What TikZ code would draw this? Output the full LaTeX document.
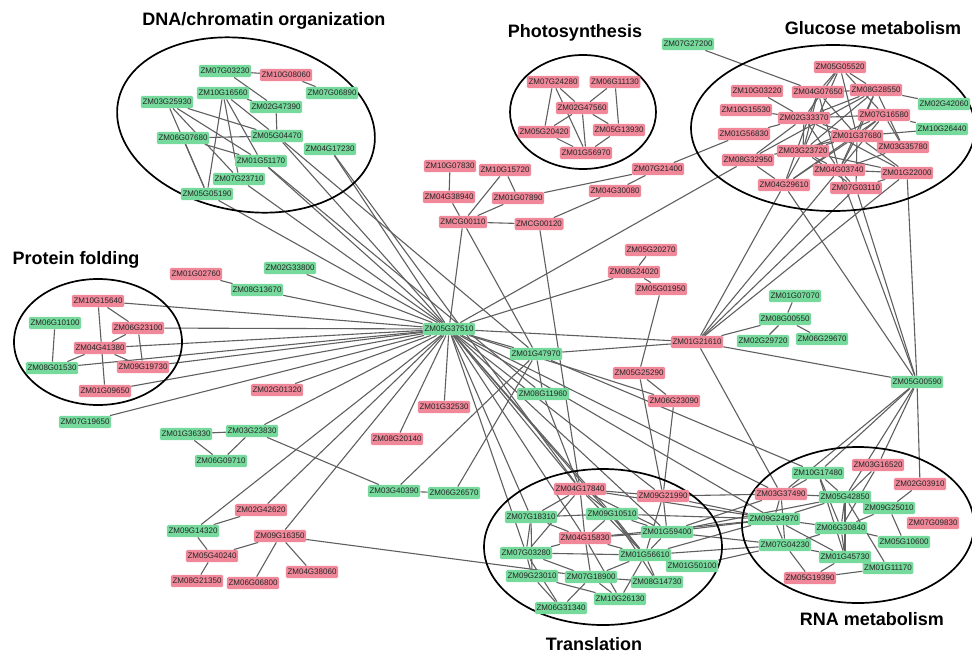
\documentclass[tikz,border=0pt]{standalone}
\usepackage{fontspec}
\setmainfont{Liberation Sans}
\definecolor{upgreen}{RGB}{118,218,156}
\definecolor{downpink}{RGB}{240,136,154}
\definecolor{linkgray}{RGB}{95,95,95}
\pgfdeclarelayer{background}
\pgfsetlayers{background,main}
\begin{document}
\begin{tikzpicture}[x=1pt, y=-1pt,
     gene/.style = {rounded corners=1.5pt, inner xsep=1.6pt, inner ysep=3.2pt,
                    text height=5.9pt, text depth=0.1pt,
                    font=\fontsize{8}{9}\selectfont, text=black!85},
    gnode/.style = {gene, fill=upgreen},
    pnode/.style = {gene, fill=downpink},
     link/.style = {draw=linkgray, line width=1.1pt},
  cluster/.style = {draw=black, line width=1.7pt},
    title/.style = {font=\fontsize{18}{20}\selectfont\bfseries, anchor=base}
                    ]
\useasboundingbox (0,0) rectangle (972,654);
% clusters
\draw[cluster, rotate around={-10:(246,125)}] (246,125) ellipse [x radius=130, y radius=86];
\draw[cluster] (583,112) ellipse [x radius=73, y radius=57];
\draw[cluster] (833,128) ellipse [x radius=142, y radius=83];
\draw[cluster] (98,342) ellipse [x radius=84, y radius=63];
\draw[cluster] (603,547) ellipse [x radius=119, y radius=78];
\draw[cluster] (858,525) ellipse [x radius=116, y radius=78];
% titles
\node[title] (dna)   at (264,25)  {DNA/chromatin organization};
\node[title] (photo) at (575,37)  {Photosynthesis};
\node[title] (gluc)  at (873,34)  {Glucose metabolism};
\node[title] (fold)  at (76,264)  {Protein folding};
\node[title] (trans) at (594,650) {Translation};
\node[title] (rna)   at (872,625) {RNA metabolism};
% green genes
\foreach \id/\px/\py in {ZM07G03230/225/71, ZM10G16560/223/93, ZM07G06890/332/93,
    ZM03G25930/167/102, ZM02G47390/276/107, ZM06G07680/183/138, ZM05G04470/277/136,
    ZM04G17230/330/149, ZM01G51170/261/161, ZM07G23710/239/179, ZM05G05190/207/194,
    ZM07G27200/688/44, ZM02G42060/944/104, ZM10G26440/942/129,
    ZM06G10100/55/323, ZM08G01530/52/368, ZM07G19650/85/422,
    ZM02G33800/290/268, ZM08G13670/257/290, ZM01G36330/186/434, ZM03G23830/252/431,
    ZM06G09710/221/461, ZM03G40390/394/491, ZM06G26570/454/493, ZM09G14320/193/531,
    ZM05G37510/449/329, ZM01G47970/536/354, ZM08G11960/543/394,
    ZM01G07070/795/296, ZM08G00550/785/319, ZM02G29720/763/341, ZM06G29670/822/339,
    ZM05G00590/917/382,
    ZM07G18310/531/517, ZM09G10510/612/514, ZM01G59400/667/532, ZM07G03280/526/553,
    ZM01G56610/645/555, ZM01G50100/692/566, ZM09G23010/532/576, ZM07G18900/591/577,
    ZM08G14730/657/582, ZM10G26130/620/599, ZM06G31340/561/608,
    ZM10G17480/818/473, ZM05G42850/845/497, ZM09G25010/889/508, ZM09G24970/774/519,
    ZM06G30840/841/528, ZM07G04230/785/545, ZM05G10600/904/542, ZM01G45730/845/557,
    ZM01G11170/888/568}
    \node[gnode] (\id) at (\px,\py) {\id};
% pink genes
\foreach \id/\px/\py in {ZM10G08060/286/75,
    ZM07G24280/553/82, ZM06G11130/615/82, ZM02G47560/582/108, ZM05G20420/544/132,
    ZM05G13930/619/130, ZM01G56970/586/153,
    ZM05G05520/840/67, ZM10G03220/757/91, ZM04G07650/818/92, ZM08G28550/876/90,
    ZM10G15530/746/110, ZM02G33370/804/118, ZM07G16580/884/115, ZM01G56830/744/134,
    ZM01G37680/857/136, ZM03G35780/903/147, ZM03G23720/803/151, ZM08G32950/748/160,
    ZM04G03740/839/170, ZM01G22000/907/173, ZM04G29610/784/185, ZM07G03110/856/188,
    ZM10G07830/450/166, ZM10G15720/505/170, ZM04G38940/449/197, ZM01G07890/518/198,
    ZMCG00110/463/222, ZMCG00120/539/224, ZM07G21400/658/169, ZM04G30080/615/191,
    ZM05G20270/651/250, ZM08G24020/634/272, ZM05G01950/661/289,
    ZM10G15640/98/301, ZM06G23100/138/328, ZM04G41380/100/348, ZM09G19730/143/367,
    ZM01G09650/105/391,
    ZM01G02760/196/274, ZM02G01320/277/390, ZM01G32530/444/407, ZM08G20140/397/439,
    ZM02G42620/261/510, ZM09G16350/280/536, ZM05G40240/212/556, ZM04G38060/312/572,
    ZM08G21350/197/581, ZM06G06800/253/583,
    ZM01G21610/697/342, ZM05G25290/639/373, ZM06G23090/674/401,
    ZM04G17840/580/489, ZM09G21990/663/496, ZM04G15830/585/538,
    ZM03G16520/878/465, ZM02G03910/920/484, ZM03G37490/781/494, ZM07G09830/933/523,
    ZM05G19390/810/578}
    \node[pnode] (\id) at (\px,\py) {\id};
% interactions
\begin{pgfonlayer}{background}
\foreach \a/\b in {
    ZM07G03230/ZM10G08060, ZM07G03230/ZM02G47390, ZM10G08060/ZM07G06890,
    ZM10G16560/ZM02G47390, ZM10G16560/ZM05G04470, ZM10G16560/ZM01G51170,
    ZM10G16560/ZM07G23710, ZM10G16560/ZM05G05190, ZM03G25930/ZM05G04470,
    ZM03G25930/ZM01G51170, ZM03G25930/ZM07G23710, ZM03G25930/ZM05G05190,
    ZM06G07680/ZM05G04470, ZM06G07680/ZM05G05190, ZM06G07680/ZM01G51170,
    ZM02G47390/ZM05G04470,
    ZM05G04470/ZM05G37510, ZM04G17230/ZM05G37510, ZM01G51170/ZM05G37510,
    ZM07G23710/ZM05G37510, ZM05G05190/ZM05G37510, ZM05G04470/ZM01G47970,
    ZM04G17230/ZM04G17840, ZM01G51170/ZM08G11960,
    ZM07G24280/ZM02G47560, ZM07G24280/ZM05G20420, ZM07G24280/ZM01G56970,
    ZM06G11130/ZM02G47560, ZM06G11130/ZM05G13930, ZM02G47560/ZM05G20420,
    ZM02G47560/ZM01G56970, ZM02G47560/ZM05G13930, ZM05G20420/ZM01G56970,
    ZM05G13930/ZM01G56970,
    ZM10G07830/ZM04G38940, ZM04G38940/ZMCG00110, ZM10G15720/ZMCG00110,
    ZM10G15720/ZM01G07890, ZM01G07890/ZMCG00110, ZM01G07890/ZM07G21400,
    ZM07G21400/ZM04G30080, ZM07G21400/ZM01G56830, ZMCG00110/ZMCG00120,
    ZMCG00120/ZM04G30080, ZMCG00120/ZM04G17840, ZMCG00110/ZM05G37510,
    ZMCG00110/ZM01G47970, ZM05G20270/ZM08G24020, ZM08G24020/ZM05G01950,
    ZM08G24020/ZM05G37510, ZM05G01950/ZM05G25290, ZM08G32950/ZM05G37510,
    ZM07G27200/ZM04G07650}
    \draw[link] (\a) -- (\b);
% glucose metabolism
\foreach \a/\b in {
    ZM05G05520/ZM04G07650, ZM05G05520/ZM08G28550, ZM05G05520/ZM02G33370,
    ZM05G05520/ZM01G37680, ZM05G05520/ZM07G16580, ZM05G05520/ZM03G23720,
    ZM04G07650/ZM08G28550, ZM04G07650/ZM01G37680, ZM04G07650/ZM03G23720,
    ZM04G07650/ZM04G03740, ZM04G07650/ZM04G29610, ZM10G03220/ZM02G33370,
    ZM08G28550/ZM02G42060, ZM08G28550/ZM02G33370, ZM08G28550/ZM01G37680,
    ZM08G28550/ZM03G23720, ZM08G28550/ZM08G32950, ZM08G28550/ZM04G03740,
    ZM08G28550/ZM03G35780, ZM10G15530/ZM02G33370, ZM02G33370/ZM07G16580,
    ZM02G33370/ZM01G37680, ZM02G33370/ZM03G23720, ZM02G33370/ZM04G03740,
    ZM02G33370/ZM01G56830, ZM02G33370/ZM01G22000, ZM02G33370/ZM08G32950,
    ZM07G16580/ZM10G26440, ZM07G16580/ZM01G37680, ZM07G16580/ZM03G23720,
    ZM07G16580/ZM04G29610, ZM07G16580/ZM03G35780, ZM07G16580/ZM04G03740,
    ZM01G37680/ZM10G26440, ZM01G37680/ZM03G23720, ZM01G37680/ZM04G03740,
    ZM01G37680/ZM01G22000, ZM01G37680/ZM04G29610, ZM01G37680/ZM07G03110,
    ZM01G37680/ZM08G32950, ZM01G37680/ZM03G35780, ZM03G23720/ZM04G03740,
    ZM03G23720/ZM01G22000, ZM03G23720/ZM04G29610, ZM03G23720/ZM07G03110,
    ZM08G32950/ZM04G29610, ZM04G03740/ZM07G03110, ZM04G03740/ZM03G35780,
    ZM07G03110/ZM01G22000, ZM04G03740/ZM01G22000,
    ZM04G29610/ZM01G21610, ZM04G03740/ZM01G21610, ZM07G03110/ZM01G21610,
    ZM01G22000/ZM01G21610, ZM04G29610/ZM05G00590, ZM04G03740/ZM05G00590,
    ZM07G03110/ZM05G00590, ZM01G22000/ZM05G00590}
    \draw[link] (\a) -- (\b);
% protein folding and the hub
\foreach \a/\b in {
    ZM10G15640/ZM06G23100, ZM10G15640/ZM01G09650, ZM06G10100/ZM08G01530,
    ZM06G23100/ZM04G41380, ZM06G23100/ZM09G19730, ZM04G41380/ZM08G01530,
    ZM04G41380/ZM09G19730,
    ZM10G15640/ZM05G37510, ZM06G23100/ZM05G37510, ZM04G41380/ZM05G37510,
    ZM08G01530/ZM05G37510, ZM09G19730/ZM05G37510, ZM01G09650/ZM05G37510,
    ZM07G19650/ZM05G37510,
    ZM01G02760/ZM08G13670, ZM02G33800/ZM05G37510, ZM08G13670/ZM05G37510,
    ZM02G01320/ZM05G37510, ZM01G32530/ZM05G37510, ZM08G20140/ZM05G37510,
    ZM01G36330/ZM03G23830, ZM01G36330/ZM06G09710, ZM03G23830/ZM06G09710,
    ZM03G23830/ZM05G37510, ZM03G23830/ZM03G40390,
    ZM03G40390/ZM06G26570, ZM03G40390/ZM01G47970, ZM06G26570/ZM01G47970,
    ZM02G42620/ZM09G14320, ZM02G42620/ZM05G37510, ZM09G14320/ZM05G37510,
    ZM09G14320/ZM05G40240, ZM05G40240/ZM09G16350, ZM05G40240/ZM08G21350,
    ZM09G16350/ZM06G06800, ZM09G16350/ZM04G38060, ZM09G16350/ZM05G37510,
    ZM09G16350/ZM07G18900,
    ZM05G37510/ZM01G47970, ZM05G37510/ZM01G21610, ZM01G47970/ZM01G21610,
    ZM01G47970/ZM08G11960, ZM01G47970/ZM10G17480, ZM08G11960/ZM04G17840,
    ZM05G37510/ZM06G23090,
    ZM05G37510/ZM04G17840, ZM05G37510/ZM07G18310, ZM05G37510/ZM09G10510,
    ZM05G37510/ZM04G15830, ZM05G37510/ZM01G59400, ZM05G37510/ZM01G56610,
    ZM05G37510/ZM07G03280, ZM05G37510/ZM09G21990, ZM05G37510/ZM03G37490,
    ZM05G37510/ZM09G24970,
    ZM01G07070/ZM08G00550, ZM08G00550/ZM02G29720, ZM08G00550/ZM06G29670,
    ZM08G00550/ZM01G21610, ZM01G21610/ZM05G00590, ZM01G21610/ZM03G37490,
    ZM05G25290/ZM06G23090, ZM05G25290/ZM09G21990, ZM06G23090/ZM09G21990,
    ZM05G00590/ZM10G17480, ZM05G00590/ZM03G16520, ZM05G00590/ZM05G42850,
    ZM05G00590/ZM02G03910, ZM05G00590/ZM03G37490}
    \draw[link] (\a) -- (\b);
% translation and RNA metabolism
\foreach \a/\b in {
    ZM04G17840/ZM09G21990, ZM04G17840/ZM07G18310, ZM04G17840/ZM09G10510,
    ZM04G17840/ZM04G15830, ZM04G17840/ZM01G59400, ZM04G17840/ZM01G56610,
    ZM04G17840/ZM07G03280, ZM07G18310/ZM09G10510, ZM07G18310/ZM07G03280,
    ZM07G18310/ZM04G15830, ZM07G18310/ZM09G23010, ZM09G10510/ZM01G59400,
    ZM09G10510/ZM01G56610, ZM09G10510/ZM08G14730, ZM09G10510/ZM04G15830,
    ZM04G15830/ZM01G59400, ZM04G15830/ZM07G03280, ZM04G15830/ZM01G56610,
    ZM04G15830/ZM07G18900, ZM04G15830/ZM10G26130, ZM07G03280/ZM01G56610,
    ZM07G03280/ZM09G23010, ZM07G03280/ZM06G31340, ZM07G03280/ZM07G18900,
    ZM01G56610/ZM01G59400, ZM01G56610/ZM07G18900, ZM01G56610/ZM10G26130,
    ZM01G56610/ZM08G14730, ZM07G18900/ZM08G14730, ZM07G18900/ZM10G26130,
    ZM07G18900/ZM06G31340, ZM09G23010/ZM06G31340, ZM09G23010/ZM10G26130,
    ZM09G21990/ZM01G59400, ZM09G21990/ZM01G56610,
    ZM09G21990/ZM09G24970, ZM09G21990/ZM03G37490, ZM01G59400/ZM09G24970,
    ZM01G59400/ZM07G04230, ZM01G59400/ZM03G37490, ZM01G56610/ZM09G24970,
    ZM01G56610/ZM07G04230, ZM09G10510/ZM09G24970, ZM04G17840/ZM09G24970,
    ZM01G50100/ZM07G04230, ZM01G59400/ZM05G42850, ZM04G15830/ZM09G24970,
    ZM10G17480/ZM03G37490, ZM10G17480/ZM05G42850, ZM10G17480/ZM06G30840,
    ZM10G17480/ZM01G45730, ZM03G16520/ZM05G42850, ZM03G16520/ZM06G30840,
    ZM02G03910/ZM09G25010, ZM03G37490/ZM09G24970, ZM03G37490/ZM05G42850,
    ZM03G37490/ZM07G04230, ZM05G42850/ZM09G25010, ZM05G42850/ZM06G30840,
    ZM05G42850/ZM01G45730, ZM05G42850/ZM09G24970, ZM05G42850/ZM01G11170,
    ZM09G25010/ZM06G30840, ZM09G25010/ZM05G10600, ZM09G24970/ZM06G30840,
    ZM09G24970/ZM07G04230, ZM09G24970/ZM01G45730, ZM06G30840/ZM07G04230,
    ZM06G30840/ZM01G45730, ZM06G30840/ZM05G10600, ZM07G04230/ZM01G45730,
    ZM07G04230/ZM05G19390, ZM01G45730/ZM05G19390, ZM01G45730/ZM01G11170,
    ZM05G19390/ZM01G11170}
    \draw[link] (\a) -- (\b);
\end{pgfonlayer}
\end{tikzpicture}
\end{document}
